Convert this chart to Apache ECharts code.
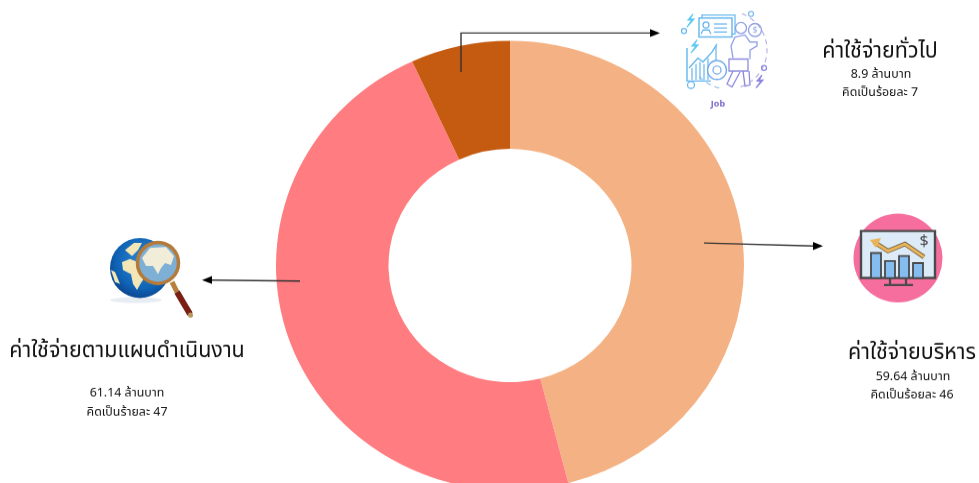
<!DOCTYPE html>
<html>
<head>
<meta charset="utf-8">
<style>
  html, body { margin: 0; padding: 0; width: 979px; height: 483px; overflow: hidden; background: #fff; }
  /* the reference is squashed a little vertically, so the round donut is too */
  #main { width: 979px; height: 503px; transform: scaleY(0.96); transform-origin: 0 0; }
</style>
<script src="https://cdn.jsdelivr.net/npm/echarts@6/dist/echarts.min.js"></script>
</head>
<body>
<div id="main"></div>
<script>
var categories = ['ค่าใช้จ่ายบริหาร', 'ค่าใช้จ่ายตามแผนดำเนินงาน', 'ค่าใช้จ่ายทั่วไป']
var amounts = [59.64, 61.14, 8.9]
var percentLabels = ['คิดเป็นร้อยละ 46', 'คิดเป็นร้ายละ 47', 'คิดเป็นร้อยละ 7']
var colors = ['#F4B183', '#FF7C80', '#C55A11']

var squash = 0.96
var font = '"Noto Sans", "Noto Sans Thai", Tahoma, sans-serif'
var blue = '#62B6EE'
var violet = '#8C86DC'

function line(points, color, width, extra) {
  return Object.assign({
    type: 'polyline',
    shape: { points: points },
    style: { stroke: color, lineWidth: width, fill: null }
  }, extra || {})
}
function circle(cx, cy, r, fill, stroke, width) {
  return { type: 'circle', shape: { cx: cx, cy: cy, r: r }, style: { fill: fill || null, stroke: stroke || null, lineWidth: width || 1 } }
}
function box(x, y, w, h, fill, stroke, width) {
  return { type: 'rect', shape: { x: x, y: y, width: w, height: h }, style: { fill: fill || null, stroke: stroke || null, lineWidth: width || 1 } }
}
function poly(points, fill) {
  return { type: 'polygon', shape: { points: points }, style: { fill: fill } }
}
function label(text, x, y, size, color, weight) {
  return {
    type: 'text', x: x, y: y,
    style: { text: text, font: (weight || 'normal') + ' ' + size + 'px ' + font, fill: color || '#111', textAlign: 'center', textVerticalAlign: 'middle' }
  }
}
function bolt(x, y, color) {
  return line([[x + 3, y], [x - 2, y + 6], [x + 2, y + 6], [x - 3, y + 13], [x + 4, y + 5], [x, y + 5], [x + 3, y]], color, 1.2)
}

// leader lines
var arrows = [
  line([[461, 72], [461, 33], [651, 33]], '#333', 1.4),
  poly([[660, 33], [650, 29], [650, 37]], '#000'),
  line([[704, 243], [814, 246]], '#333', 1.4),
  poly([[823, 246], [813, 242], [813, 250]], '#000'),
  line([[300, 281], [211, 280]], '#333', 1.4),
  poly([[202, 280], [212, 276], [212, 284]], '#000')
]

var jobIcon = [
  box(702, 15, 33, 19, '#fff', blue, 1.2),
  box(699, 18, 33, 19, '#fff', blue, 1.4),
  circle(706, 25, 3, null, blue, 1.2),
  line([[701, 34], [703, 30], [709, 30], [711, 34]], blue, 1.2),
  line([[714, 24], [727, 24]], blue, 1.2),
  line([[714, 28], [727, 28]], blue, 1.2),
  line([[714, 32], [727, 32]], blue, 1.2),
  bolt(690, 14, '#5CC8F2'),
  bolt(694, 40, '#5CC8F2'),
  circle(684, 31, 2.5, null, blue, 1.2),
  circle(691, 85, 3.5, null, blue, 1.2),
  line([[687, 48], [687, 81], [711, 81]], blue, 1.4),
  line([[689, 68], [698, 58], [703, 62], [712, 52], [717, 44]], blue, 1.4),
  line([[692, 80], [692, 68]], blue, 1.2),
  line([[696, 80], [696, 64]], blue, 1.2),
  line([[700, 80], [700, 62]], blue, 1.2),
  line([[704, 80], [704, 64]], blue, 1.2),
  line([[708, 80], [708, 58]], blue, 1.2),
  line([[716, 62], [716, 46]], blue, 1.2),
  circle(717, 70, 9.5, '#fff', '#6FA8E8', 1.4),
  circle(717, 70, 4, null, '#6FA8E8', 1.2),
  circle(741, 28, 5.5, '#fff', '#8FA0E4', 1.3),
  line([[733, 58], [731, 46], [735, 37], [745, 35], [750, 42], [757, 42], [757, 46], [750, 50], [750, 59]], '#8FA0E4', 1.3),
  circle(755, 30, 6.5, '#fff', '#8FA0E4', 1.3),
  label('$', 755, 30, 8, '#8FA0E4'),
  box(729, 59, 19, 12, '#fff', '#8D8CE0', 1.3),
  line([[733, 71], [727, 84], [732, 87], [740, 72]], '#8D8CE0', 1.3),
  line([[743, 71], [745, 86], [750, 85], [749, 71]], violet, 1.3),
  bolt(759, 75, violet),
  circle(764, 68, 2.5, null, violet, 1.2),
  circle(751, 14, 2.5, null, '#7FB8EC', 1.2),
  {
    type: 'arc', shape: { cx: 728, cy: 50, r: 39, startAngle: -1.2, endAngle: 1.35 },
    style: { stroke: '#A9A4E6', lineWidth: 1, fill: null, lineDash: [5, 4] }
  },
  {
    type: 'arc', shape: { cx: 728, cy: 50, r: 39, startAngle: 1.8, endAngle: 2.5 },
    style: { stroke: '#7FB8EC', lineWidth: 1, fill: null, lineDash: [5, 4] }
  },
  label('Job', 718, 104, 9, '#7B68C8', 'bold')
]

var monitorIcon = [
  circle(898, 258, 44.5, '#F56E9E'),
  box(861, 231, 74, 47, '#DCEBF7', '#4A4A4A', 2.4),
  line([[890, 278], [890, 285]], '#4A4A4A', 2.2),
  line([[906, 278], [906, 285]], '#4A4A4A', 2.2),
  line([[884, 285], [913, 285]], '#4A4A4A', 2.2),
  box(871, 253, 10, 25, '#85BDF0', '#4A4A4A', 1.8),
  box(885, 261, 10, 17, '#85BDF0', '#4A4A4A', 1.8),
  box(899, 256, 10, 22, '#85BDF0', '#4A4A4A', 1.8),
  box(913, 263, 10, 15, '#85BDF0', '#4A4A4A', 1.8),
  line([[874, 242], [888, 251], [905, 244], [924, 257]], '#6B5A3A', 4.5),
  line([[874, 242], [888, 251], [905, 244], [924, 257]], '#E9B45A', 3),
  poly([[870, 240], [881, 238], [876, 248]], '#E9B45A'),
  label('$', 924, 241, 16, '#4A4A4A')
]

var globeIcon = [
  {
    type: 'ellipse', shape: { cx: 136, cy: 300, rx: 26, ry: 3 },
    style: { fill: 'rgba(150,170,200,0.22)' }
  },
  {
    type: 'circle', shape: { cx: 140, cy: 268, r: 30 },
    style: {
      fill: {
        type: 'radial', x: 0.55, y: 0.4, r: 0.65,
        colorStops: [{ offset: 0, color: '#2F8BD6' }, { offset: 0.7, color: '#0F62B4' }, { offset: 1, color: '#0B3F86' }]
      }
    }
  },
  poly([[122, 262], [130, 259], [138, 262], [145, 266], [147, 274], [141, 283], [137, 290], [133, 284], [131, 274], [123, 270]], '#F3E7B8'),
  poly([[125, 250], [134, 243], [142, 243], [138, 250], [132, 256]], '#F3E7B8'),
  poly([[111, 270], [115, 272], [120, 284], [115, 282]], '#F3E7B8'),
  circle(158, 263, 20.5, '#5E9CCB'),
  poly([[142, 258], [150, 248], [166, 247], [174, 256], [171, 265], [165, 263], [161, 268], [158, 274], [153, 266], [146, 266]], '#EFE9CF'),
  circle(158, 263, 20.5, 'rgba(255,255,255,0.2)', '#B47A3A', 3.5),
  line([[172, 282], [177, 292]], '#B8803C', 5),
  line([[177, 292], [190, 314]], '#7A1F14', 6),
  circle(190.5, 315, 2.5, '#B8955C')
]

var texts = [
  label(categories[2], 880, 51, 21.5),
  label(amounts[2] + ' ล้านบาท', 881, 74, 12.4),
  label(percentLabels[2], 880, 92, 12.4),
  label(categories[0], 912, 353, 21.5),
  label(amounts[0] + ' ล้านบาท', 913, 377, 12.4),
  label(percentLabels[0], 912, 395, 12.4),
  label(categories[1], 127, 351, 21.5),
  label(amounts[1] + ' ล้านบาท', 127, 393, 12.4),
  label(percentLabels[1], 127, 412, 12.4)
]

var annotations = arrows.concat(jobIcon, monitorIcon, globeIcon, texts).map(function(el) {
  el.z = 100
  return el
})

var chart = echarts.init(document.getElementById('main'))
chart.setOption({
  animation: false,
  color: colors,
  series: [{
    type: 'pie',
    center: [510, 265.5 / squash],
    radius: [121.5, 234],
    startAngle: 90,
    clockwise: true,
    silent: true,
    label: { show: false },
    labelLine: { show: false },
    data: categories.map(function(name, i) {
      return { name: name, value: amounts[i] }
    })
  }],
  graphic: [{
    type: 'group',
    scaleY: 1 / squash,
    silent: true,
    children: annotations
  }]
})
</script>
</body>
</html>
